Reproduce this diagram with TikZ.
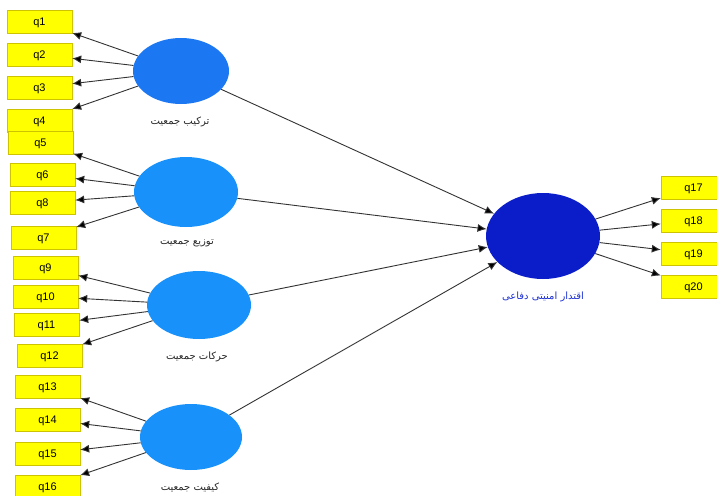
\documentclass[tikz,border=0pt]{standalone}
\usepackage{fontspec}
\setmainfont{Liberation Sans}
\newfontfamily\farsi[Script=Arabic]{DejaVu Sans}
\TeXXeTstate=1
\usetikzlibrary{arrows.meta, positioning, shapes.geometric}

\definecolor{boxfill}{RGB}{255,255,0}
\definecolor{boxline}{RGB}{205,195,0}
\definecolor{lvone}{RGB}{28,120,242}
\definecolor{lvtwo}{RGB}{24,146,250}
\definecolor{lvend}{RGB}{10,29,201}
\definecolor{lblend}{RGB}{30,50,210}

\begin{document}
\begin{tikzpicture}[x=1pt, y=-1pt,
  item/.style={draw=boxline, fill=boxfill, minimum width=65pt, minimum height=23pt, inner sep=0pt, text depth=0pt, font=\fontsize{11}{13}\selectfont},
  lv/.style={ellipse, inner sep=0pt},
  lvlabel/.style={font=\farsi\fontsize{10}{12}\selectfont, text=black!85},
  arr/.style={draw=black!80, line width=0.9pt, -{Latex[length=9pt, width=8pt, fill=black]}}]
  \useasboundingbox (0,0) rectangle (717,495);
  \clip (0,0) rectangle (717,495);

  % Indicators (left)
  \node[item] (q1) at (39.5,21.5) {q1};
  \node[item] (q2) at (39.5,54.5) {q2};
  \node[item] (q3) at (39.5,87.5) {q3};
  \node[item] (q4) at (39.5,120.5) {q4};
  \node[item] (q5) at (40.5,142.5) {q5};
  \node[item] (q6) at (42.5,174.5) {q6};
  \node[item] (q8) at (42.5,202.5) {q8};
  \node[item] (q7) at (43.5,237.5) {q7};
  \node[item] (q9) at (45.5,267.5) {q9};
  \node[item] (q10) at (45.5,296.5) {q10};
  \node[item] (q11) at (46.5,324.5) {q11};
  \node[item] (q12) at (49.5,355.5) {q12};
  \node[item] (q13) at (47.5,386.5) {q13};
  \node[item] (q14) at (47.5,419.5) {q14};
  \node[item] (q15) at (47.5,453.5) {q15};
  \node[item] (q16) at (47.5,486.5) {q16};

  % Indicators (right)
  \node[item] (q17) at (693.5,187.5) {q17};
  \node[item] (q18) at (693.5,220.5) {q18};
  \node[item] (q19) at (693.5,253.5) {q19};
  \node[item] (q20) at (693.5,286.5) {q20};

  % Latent variables
  \node[lv, fill=lvone, minimum width=96pt, minimum height=66pt] (tarkib) at (181,71) {};
  \node[lv, fill=lvtwo, minimum width=104pt, minimum height=70pt] (tozi) at (186,192) {};
  \node[lv, fill=lvtwo, minimum width=104pt, minimum height=68pt] (harakat) at (199,305) {};
  \node[lv, fill=lvtwo, minimum width=102pt, minimum height=66pt] (keyfiat) at (191,437) {};
  \node[lv, fill=lvend, minimum width=114pt, minimum height=86pt] (eghtedar) at (543,236) {};

  \node[lvlabel] (ltarkib) at (180,122) {\beginR ترکیب جمعیت\endR};
  \node[lvlabel] (ltozi) at (187,243) {\beginR توزیع جمعیت\endR};
  \node[lvlabel] (lharakat) at (197,357) {\beginR حرکات جمعیت\endR};
  \node[lvlabel] (lkeyfiat) at (190,487) {\beginR کیفیت جمعیت\endR};
  \node[lvlabel, text=lblend] (leghtedar) at (543,297) {\beginR اقتدار امنیتی دفاعی\endR};

  % Loadings
  \draw[arr] (tarkib) -- (q1);
  \draw[arr] (tarkib) -- (q2);
  \draw[arr] (tarkib) -- (q3);
  \draw[arr] (tarkib) -- (q4);
  \draw[arr] (tozi) -- (q5);
  \draw[arr] (tozi) -- (q6);
  \draw[arr] (tozi) -- (q8);
  \draw[arr] (tozi) -- (q7);
  \draw[arr] (harakat) -- (q9);
  \draw[arr] (harakat) -- (q10);
  \draw[arr] (harakat) -- (q11);
  \draw[arr] (harakat) -- (q12);
  \draw[arr] (keyfiat) -- (q13);
  \draw[arr] (keyfiat) -- (q14);
  \draw[arr] (keyfiat) -- (q15);
  \draw[arr] (keyfiat) -- (q16);
  \draw[arr] (eghtedar) -- (q17);
  \draw[arr] (eghtedar) -- (q18);
  \draw[arr] (eghtedar) -- (q19);
  \draw[arr] (eghtedar) -- (q20);

  % Paths
  \draw[arr] (tarkib) -- (eghtedar);
  \draw[arr] (tozi) -- (eghtedar);
  \draw[arr] (harakat) -- (eghtedar);
  \draw[arr] (keyfiat) -- (eghtedar);
\end{tikzpicture}
\end{document}
